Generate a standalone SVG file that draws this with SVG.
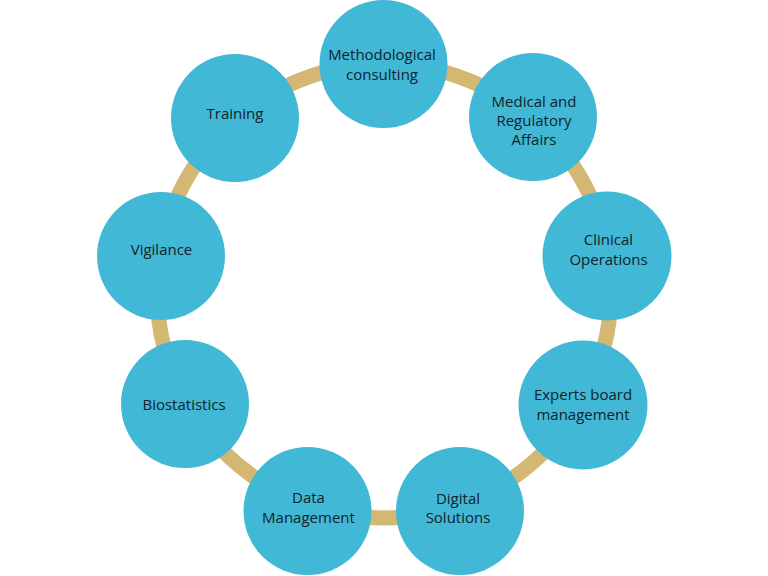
<svg xmlns="http://www.w3.org/2000/svg" width="768" height="576" viewBox="0 0 768 576">
<style>
.node circle{fill:#41B8D6;}
.node text{font-family:"Open Sans","Liberation Sans",sans-serif;font-size:15px;font-weight:500;fill:#13232A;text-anchor:middle;}
.ring{fill:none;stroke:#D4B773;stroke-width:15;}
</style>
<rect width="768" height="576" fill="#FFFFFF"/>
<g id="connectors">
<circle class="ring" cx="384" cy="291" r="227"/>
</g>
<g id="node-methodological" class="node">
<circle cx="383.5" cy="64" r="64"/>
<text x="382" y="60">Methodological</text>
<text x="382" y="79.5">consulting</text>
</g>
<g id="node-medical" class="node">
<circle cx="533" cy="117" r="64"/>
<text x="534" y="106.5">Medical and</text>
<text x="534" y="126">Regulatory</text>
<text x="534" y="145">Affairs</text>
</g>
<g id="node-clinical" class="node">
<circle cx="607" cy="256" r="64.5"/>
<text x="608.5" y="245">Clinical</text>
<text x="608.5" y="264.5">Operations</text>
</g>
<g id="node-experts" class="node">
<circle cx="583" cy="405" r="64.5"/>
<text x="583" y="400">Experts board</text>
<text x="583" y="419.5">management</text>
</g>
<g id="node-digital" class="node">
<circle cx="460" cy="511" r="64"/>
<text x="458" y="503.5">Digital</text>
<text x="458" y="522.5">Solutions</text>
</g>
<g id="node-data" class="node">
<circle cx="307.5" cy="511" r="64"/>
<text x="308.5" y="503">Data</text>
<text x="308.5" y="522.5">Management</text>
</g>
<g id="node-biostatistics" class="node">
<circle cx="185" cy="404" r="64"/>
<text x="184" y="409.5">Biostatistics</text>
</g>
<g id="node-vigilance" class="node">
<circle cx="161" cy="256" r="64"/>
<text x="161.5" y="255">Vigilance</text>
</g>
<g id="node-training" class="node">
<circle cx="235" cy="118" r="64"/>
<text x="235" y="118.5">Training</text>
</g>
</svg>
